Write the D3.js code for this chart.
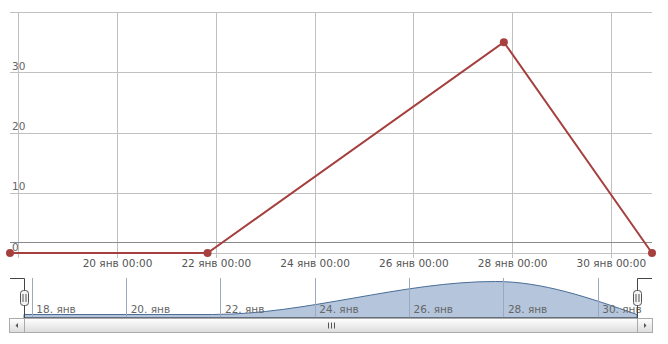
<!DOCTYPE html>
<html lang="ru">
<head>
<meta charset="UTF-8">
<title>График</title>
<script src="https://d3js.org/d3.v7.min.js"></script>
<style>
  body { margin: 0; background: #fff; }
  text { font-family: "DejaVu Sans", sans-serif; fill: #666; }
</style>
</head>
<body>
<script>
// данные
var dates  = ["2013-01-17T20:00Z", "2013-01-21T20:00Z", "2013-01-27T20:00Z", "2013-01-30T20:00Z"];
var values = [0, 0, 35, 0];
var yTicks = [0, 10, 20, 30, 40];
var tickDays = ["2013-01-18", "2013-01-20", "2013-01-22", "2013-01-24", "2013-01-26", "2013-01-28", "2013-01-30"];

var width = 668, height = 344;
var points = dates.map(function(d, i) { return { t: new Date(d), v: values[i] }; });
var tickDates = tickDays.map(function(d) { return new Date(d + "T00:00Z"); });

var ru = d3.timeFormatLocale({
  dateTime: "%A, %e %B %Y г. %X", date: "%d.%m.%Y", time: "%H:%M:%S",
  periods: ["AM", "PM"],
  days: ["воскресенье","понедельник","вторник","среда","четверг","пятница","суббота"],
  shortDays: ["вс","пн","вт","ср","чт","пт","сб"],
  months: ["январь","февраль","март","апрель","май","июнь","июль","август","сентябрь","октябрь","ноябрь","декабрь"],
  shortMonths: ["янв","фев","мар","апр","май","июн","июл","авг","сен","окт","ноя","дек"]
});
var fmtMain = ru.utcFormat("%d %b %H:%M");
var fmtNav = ru.utcFormat("%d. %b");

var svg = d3.select("body").append("svg")
    .attr("width", width)
    .attr("height", height);

// основной график
var plotL = 10, plotR = 652, plotT = 12, plotB = 253;
var x = d3.scaleUtc().domain(d3.extent(points, function(d) { return d.t; })).range([plotL, plotR]);
var y = d3.scaleLinear().domain([0, 40]).range([plotB, plotT]);

// горизонтальная сетка
var gy = svg.append("g")
    .attr("transform", "translate(" + plotL + ",0)")
    .call(d3.axisRight(y).tickValues(yTicks).tickSize(plotR - plotL).tickFormat(function(d) { return d === 40 ? "" : d; }));
gy.select(".domain").remove();
gy.selectAll("line").attr("stroke", "#c0c0c0").attr("shape-rendering", "crispEdges");
gy.selectAll("text")
    .attr("x", 2).attr("dy", -3)
    .attr("text-anchor", "start")
    .style("font-size", "10.5px")
    .style("font-family", "DejaVu Sans, sans-serif")
    .style("fill", "#666");

// вертикальная сетка и подписи оси X
var gx = svg.append("g")
    .attr("transform", "translate(0," + plotB + ")")
    .call(d3.axisBottom(x).tickValues(tickDates).tickSizeInner(-(plotB - plotT)).tickSizeOuter(0).tickPadding(0)
      .tickFormat(fmtMain));
gx.select(".domain").remove();
gx.selectAll("line").attr("stroke", "#c0c0c0").attr("y2", -(plotB - plotT)).attr("y1", 5)
    .attr("shape-rendering", "crispEdges");
gx.selectAll("text")
    .attr("y", 14).attr("dy", 0)
    .style("font-size", "10.5px")
    .style("font-family", "DejaVu Sans, sans-serif")
    .style("fill", "#555")
    .style("display", function(d) { return x(d) < 50 ? "none" : null; });

// линия оси
svg.append("line")
    .attr("x1", plotL).attr("x2", plotR)
    .attr("y1", 242.5).attr("y2", 242.5)
    .attr("stroke", "#8a8a8a");

// линия серии
svg.append("path")
    .datum(points)
    .attr("fill", "none")
    .attr("stroke", "#a5403f")
    .attr("stroke-width", 2)
    .attr("d", d3.line().x(function(d) { return x(d.t); }).y(function(d) { return y(d.v); }));

svg.selectAll("circle.pt")
    .data(points)
    .enter().append("circle")
    .attr("class", "pt")
    .attr("cx", function(d) { return x(d.t); })
    .attr("cy", function(d) { return y(d.v); })
    .attr("r", 4)
    .attr("fill", "#a5403f");

// навигатор
var navL = 24, navR = 637, navT = 278, navB = 318;
var nx = d3.scaleUtc().domain(x.domain()).range([navL, navR]);
var ny = d3.scaleLinear().domain([0, 35]).range([314.5, 281.5]);

var gn = svg.append("g")
    .attr("transform", "translate(0," + navB + ")")
    .call(d3.axisBottom(nx).tickValues(tickDates).tickSizeInner(-(navB - navT)).tickSizeOuter(0).tickFormat(fmtNav));
gn.select(".domain").remove();
gn.selectAll("line").attr("stroke", "#c8c8c8").attr("shape-rendering", "crispEdges");

svg.append("path")
    .datum(points)
    .attr("fill", "#b4c5dc")
    .attr("stroke", "#4a6e98")
    .attr("stroke-width", 1)
    .attr("d", d3.area().curve(d3.curveMonotoneX)
      .x(function(d) { return nx(d.t); })
      .y0(navB).y1(function(d) { return ny(d.v); }));

// перерисуем линии сетки навигатора поверх заливки
gn.raise();
gn.selectAll("line").attr("stroke", "#9aa9bd");
gn.selectAll("text")
    .attr("text-anchor", "start")
    .attr("x", 4).attr("y", -5).attr("dy", 0)
    .style("font-size", "10.5px")
    .style("font-family", "DejaVu Sans, sans-serif")
    .style("fill", "#666");

// контур навигатора
svg.append("path")
    .attr("fill", "none")
    .attr("stroke", "#444")
    .attr("d", "M" + plotL + "," + (navT + 0.5) + "H" + (navL + 0.5) + "V" + navB +
               "H" + (navR + 0.5) + "V" + (navT + 0.5) + "H" + plotR);

// полоса прокрутки
var defs = svg.append("defs");
var grad = defs.append("linearGradient").attr("id", "sb").attr("x1", 0).attr("x2", 0).attr("y1", 0).attr("y2", 1);
grad.append("stop").attr("offset", "0%").attr("stop-color", "#ffffff");
grad.append("stop").attr("offset", "100%").attr("stop-color", "#dcdcdc");

var sbT = 318.5, sbH = 14;
svg.append("rect").attr("x", navL + 0.5).attr("y", sbT).attr("width", navR - navL).attr("height", sbH)
    .attr("fill", "url(#sb)").attr("stroke", "#aaa");
[[9.5, "l"], [navR + 0.5, "r"]].forEach(function(b) {
  svg.append("rect").attr("x", b[0]).attr("y", sbT).attr("width", 15).attr("height", sbH)
      .attr("fill", "url(#sb)").attr("stroke", "#aaa");
  var cx = b[0] + 7.5, cy = sbT + sbH / 2;
  var p = b[1] === "l" ? "M" + (cx - 1.5) + "," + cy + "L" + (cx + 1) + "," + (cy - 2.5) + "L" + (cx + 1) + "," + (cy + 2.5) + "Z"
                       : "M" + (cx + 1.5) + "," + cy + "L" + (cx - 1) + "," + (cy - 2.5) + "L" + (cx - 1) + "," + (cy + 2.5) + "Z";
  svg.append("path").attr("d", p).attr("fill", "#555");
});
var mid = Math.round((navL + navR) / 2) + 0.5;
[-3, 0, 3].forEach(function(o) {
  svg.append("line").attr("x1", mid + o).attr("x2", mid + o).attr("y1", sbT + 4).attr("y2", sbT + 10)
      .attr("stroke", "#555");
});

// ручки
[navL, navR].forEach(function(hx) {
  svg.append("rect").attr("x", hx - 3.5).attr("y", 290.5).attr("width", 8).attr("height", 15).attr("rx", 3)
      .attr("fill", "#f4f4f4").attr("stroke", "#555");
  [-1, 2].forEach(function(o) {
    svg.append("line").attr("x1", hx + o - 0.5 + 0.5).attr("x2", hx + o).attr("y1", 294).attr("y2", 302)
        .attr("stroke", "#555");
  });
});
</script>
</body>
</html>
